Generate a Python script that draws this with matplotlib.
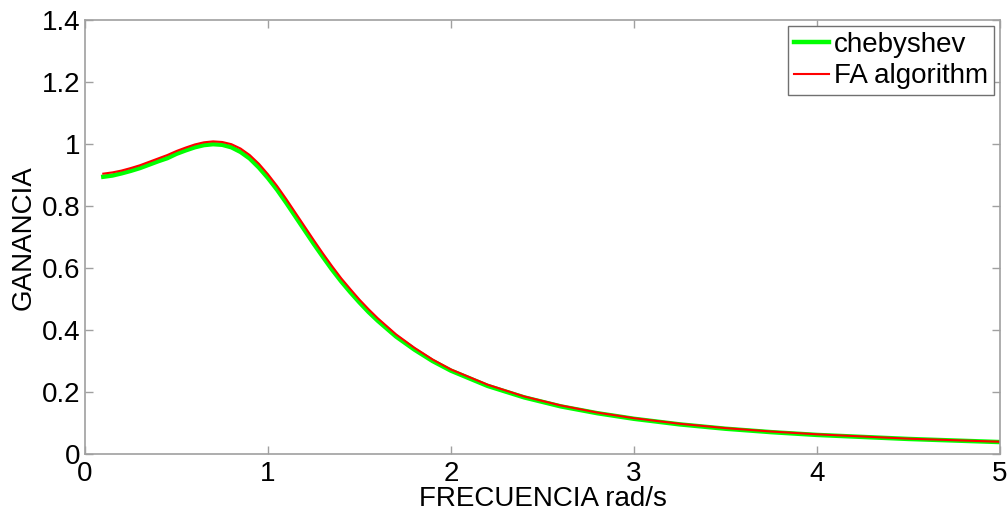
import matplotlib
matplotlib.use("Agg")
import matplotlib.pyplot as plt

plt.rcParams['font.family'] = ['Liberation Sans', 'DejaVu Sans']

# frequency samples (rad/s)
freq = [0.1, 0.15, 0.2, 0.25, 0.3, 0.35, 0.4, 0.45, 0.5, 0.55,
        0.6, 0.65, 0.7, 0.75, 0.8, 0.85, 0.9, 0.95, 1.0, 1.05,
        1.1, 1.15, 1.2, 1.25, 1.3, 1.35, 1.4, 1.45, 1.5, 1.55,
        1.6, 1.7, 1.8, 1.9, 2.0, 2.2, 2.4, 2.6, 2.8, 3.0,
        3.25, 3.5, 3.75, 4.0, 4.5, 5.0]

chebyshev = [0.895, 0.899, 0.906, 0.914, 0.923, 0.934, 0.945, 0.955, 0.969, 0.980,
             0.990, 0.997, 1.000, 0.998, 0.990, 0.975, 0.954, 0.925, 0.891, 0.853,
             0.811, 0.767, 0.723, 0.679, 0.637, 0.596, 0.558, 0.523, 0.490, 0.459,
             0.431, 0.380, 0.338, 0.301, 0.270, 0.221, 0.184, 0.155, 0.133, 0.115,
             0.097, 0.083, 0.072, 0.063, 0.050, 0.040]

fa_algorithm = [0.905, 0.909, 0.915, 0.923, 0.932, 0.943, 0.954, 0.965, 0.978, 0.989,
                0.999, 1.006, 1.009, 1.007, 1.000, 0.986, 0.965, 0.937, 0.903, 0.865,
                0.823, 0.779, 0.735, 0.691, 0.648, 0.607, 0.568, 0.533, 0.499, 0.468,
                0.439, 0.387, 0.344, 0.306, 0.274, 0.225, 0.187, 0.158, 0.135, 0.117,
                0.099, 0.085, 0.074, 0.065, 0.051, 0.041]

xticks = [0, 1, 2, 3, 4, 5]
yticks = [0, 0.2, 0.4, 0.6, 0.8, 1, 1.2, 1.4]
ytick_labels = ["0", "0.2", "0.4", "0.6", "0.8", "1", "1.2", "1.4"]

fig = plt.figure(figsize=(10.07, 5.14), dpi=100)
ax = fig.add_axes([0.0844, 0.1158, 0.9086, 0.8452])

ax.plot(freq, chebyshev, color="#00ff00", linewidth=3.2, label="chebyshev")
ax.plot(freq, fa_algorithm, color="#ff0000", linewidth=1.5, label="FA algorithm")

ax.set_xlim(0, 5)
ax.set_ylim(0, 1.4)
ax.set_xticks(xticks)
ax.set_yticks(yticks)
ax.set_yticklabels(ytick_labels)

for s in ax.spines.values():
    s.set_color("#a0a0a0")
    s.set_linewidth(1.2)
ax.tick_params(direction="in", length=6, width=1, color="#a0a0a0",
               top=True, right=True, labelsize=20, labelcolor="black", pad=3)
ax.tick_params(axis="x", pad=5)

ax.set_xlabel("FRECUENCIA rad/s", fontsize=20, labelpad=-1)
ax.set_ylabel("GANANCIA", fontsize=20, labelpad=4)

leg = ax.legend(loc="upper right", fontsize=20, fancybox=False, framealpha=1,
                edgecolor="#707070", handlelength=1.25, handletextpad=0.2,
                borderpad=0.2, labelspacing=0.2, borderaxespad=0.22)
leg.get_frame().set_linewidth(1.0)

fig.savefig("out.png", dpi=100)
